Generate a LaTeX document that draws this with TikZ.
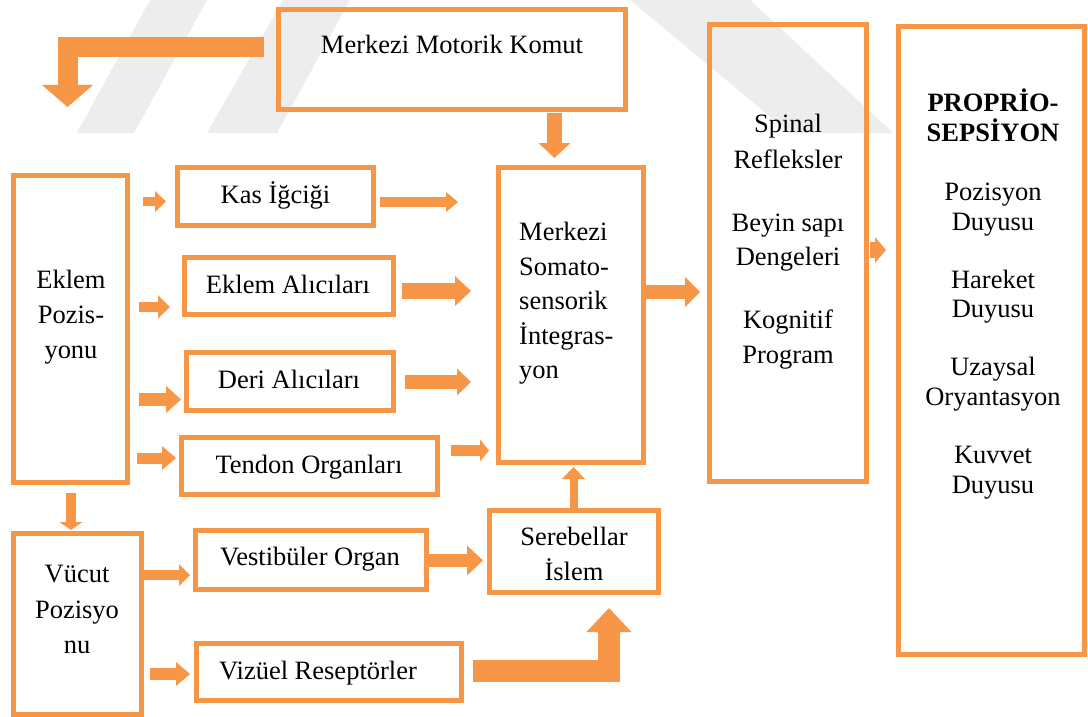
\documentclass[tikz,border=0pt]{standalone}
\usepackage{fontspec}
\setmainfont{Liberation Serif}
\usetikzlibrary{arrows.meta,calc}
\definecolor{orng}{HTML}{F79646}
\definecolor{wmgray}{HTML}{EDEDED}
\tikzset{
  bx/.style={draw=orng, line width=5pt, inner sep=0pt, rectangle},
  txt/.style={anchor=base, inner sep=0pt, font=\fontsize{26.5}{32}\selectfont, text=black},
  fat/.style n args={3}{draw=orng, line width=#1pt, line join=miter,
    -{Triangle[width=#2pt,length=#3pt,line width=0pt]}},
}
\newcommand{\bx}[5]{\node[bx, minimum width={#4-#2-5}, minimum height={#5-#3-5}] (#1) at ({(#2+#4)/2},{(#3+#5)/2}) {};}
\begin{document}
\begin{tikzpicture}[x=1pt,y=-1pt]
\useasboundingbox (0,0) rectangle (1088,717);
\fill[white] (0,0) rectangle (1088,717);
% faint watermark
\begin{scope}
  \clip (0,0) rectangle (1088,133);
  \fill[wmgray] (150,0) -- (207,0) -- (134,133) -- (77,133) -- cycle;
  \fill[wmgray] (283,0) -- (350,0) -- (277,133) -- (207,133) -- cycle;
  \fill[wmgray] (630,0) -- (750,0) -- (893,133) -- (790,133) -- cycle;
\end{scope}
% boxes (outer W, N, E, S)
\bx{mmk}{276}{7}{628}{112}
\bx{kas}{175}{165}{376}{228}
\bx{ep}{11}{173}{130}{485}
\bx{eal}{182}{255}{396}{317}
\bx{deri}{184}{350}{396}{413}
\bx{tend}{179}{435}{440}{497}
\bx{mso}{496}{165}{646}{465}
\bx{vuc}{11}{531}{144}{717}
\bx{vest}{193}{528}{429}{592}
\bx{viz}{194}{641}{464}{703}
\bx{sereb}{487}{508}{661}{595}
\bx{spin}{707}{22}{869}{484}
\bx{prop}{896}{24}{1087}{657}
% texts
\node[txt] (mmkT) at (452,54) {Merkezi Motorik Komut};
\node[txt] (kasT) at (275.5,203) {Kas İğciği};
\node[txt] (epT1) at (71,288) {Eklem};
\node[txt] (epT2) at (71,323) {Pozis-};
\node[txt] (epT3) at (71,358) {yonu};
\node[txt] (ealT) at (288,293) {Eklem Alıcıları};
\node[txt] (deriT) at (289,388) {Deri Alıcıları};
\node[txt] (tendT) at (309,473) {Tendon Organları};
\node[txt,anchor=base west] (msoT1) at (519,240) {Merkezi};
\node[txt,anchor=base west] (msoT2) at (519,275) {Somato-};
\node[txt,anchor=base west] (msoT3) at (519,309) {sensorik};
\node[txt,anchor=base west] (msoT4) at (519,344) {İntegras-};
\node[txt,anchor=base west] (msoT5) at (519,378) {yon};
\node[txt] (vucT1) at (77,582) {Vücut};
\node[txt] (vucT2) at (77,618) {Pozisyo};
\node[txt] (vucT3) at (77,653) {nu};
\node[txt] (vestT) at (310,565) {Vestibüler Organ};
\node[txt] (serebT1) at (574,545) {Serebellar};
\node[txt] (serebT2) at (574,580) {İslem};
\node[txt] (vizT) at (318,679) {Vizüel Reseptörler};
\node[txt] (spinT1) at (788,132) {Spinal};
\node[txt] (spinT2) at (788,168) {Refleksler};
\node[txt] (spinT3) at (788,231) {Beyin sapı};
\node[txt] (spinT4) at (788,265) {Dengeleri};
\node[txt] (spinT5) at (788,328) {Kognitif};
\node[txt] (spinT6) at (788,363) {Program};
\node[txt,font=\fontsize{26.5}{32}\selectfont\bfseries] (propT1) at (993,112) {PROPRİO-};
\node[txt,font=\fontsize{26.5}{32}\selectfont\bfseries] (propT2) at (993,142) {SEPSİYON};
\node[txt] (propT3) at (993,200) {Pozisyon};
\node[txt] (propT4) at (993,230) {Duyusu};
\node[txt] (propT5) at (993,288) {Hareket};
\node[txt] (propT6) at (993,317) {Duyusu};
\node[txt] (propT7) at (993,375) {Uzaysal};
\node[txt] (propT8) at (993,405) {Oryantasyon};
\node[txt] (propT9) at (993,463) {Kuvvet};
\node[txt] (propT10) at (993,493) {Duyusu};
% arrows
\coordinate (a1end) at (67.5,107);
\draw[fat={20}{51}{22}] ($(mmk.west)+(-12,-12.5)$) -| (a1end);
\draw[fat={15}{32}{15}] ($(mmk.south)+(102.5,1)$) -- ($(mso.north)+(-16.5,-7)$);
\draw[fat={9}{21}{11}] ($(ep.east)+(13,-127.5)$) -- ($(kas.west)+(-9,5)$);
\draw[fat={10}{20}{12}] ($(kas.east)+(4,5.5)$) -- ($(mso.west)+(-38,-113)$);
\draw[fat={10}{23}{12}] ($(ep.east)+(9,-22)$) -- ($(eal.west)+(-12,21)$);
\draw[fat={16}{30}{16}] ($(eal.east)+(6,5)$) -- ($(mso.west)+(-25,-24)$);
\draw[fat={13}{27}{15}] ($(ep.east)+(9,70.5)$) -- ($(deri.west)+(-3,18)$);
\draw[fat={14}{27}{14}] ($(deri.east)+(9,0.5)$) -- ($(mso.west)+(-25,67)$);
\draw[fat={11}{24}{14}] ($(ep.east)+(7,129)$) -- ($(tend.west)+(-3,-8)$);
\draw[fat={11}{22}{9}] ($(tend.east)+(11,-15.5)$) -- ($(mso.west)+(-7,135.5)$);
\draw[fat={14}{30}{15}] ($(mso.east)+(-3,-23)$) -- ($(spin.west)+(-7,39)$);
\draw[fat={16}{26}{11}] ($(spin.east)+(1,-3)$) -- ($(prop.west)+(-10,-90.5)$);
\draw[fat={10}{23}{8}] ($(ep.south)+(0.5,8)$) -- ($(vuc.north)+(-6.5,-1)$);
\draw[fat={10}{22}{11}] ($(vuc.east)+(-2,-49)$) -- ($(vest.west)+(-3,15)$);
\draw[fat={13}{30}{16}] ($(vest.east)+(0,0.5)$) -- ($(sereb.west)+(-4,9)$);
\draw[fat={8}{23}{12}] ($(sereb.north)+(-0.5,0)$) -- ($(mso.south)+(2.5,2)$);
\draw[fat={12}{24}{14}] ($(vuc.east)+(6,50)$) -- ($(viz.west)+(-4,2)$);
\draw[fat={22}{45}{24}] ($(viz.east)+(9,-1)$) -| ($(sereb.south)+(35,13)$);
\end{tikzpicture}
\end{document}
